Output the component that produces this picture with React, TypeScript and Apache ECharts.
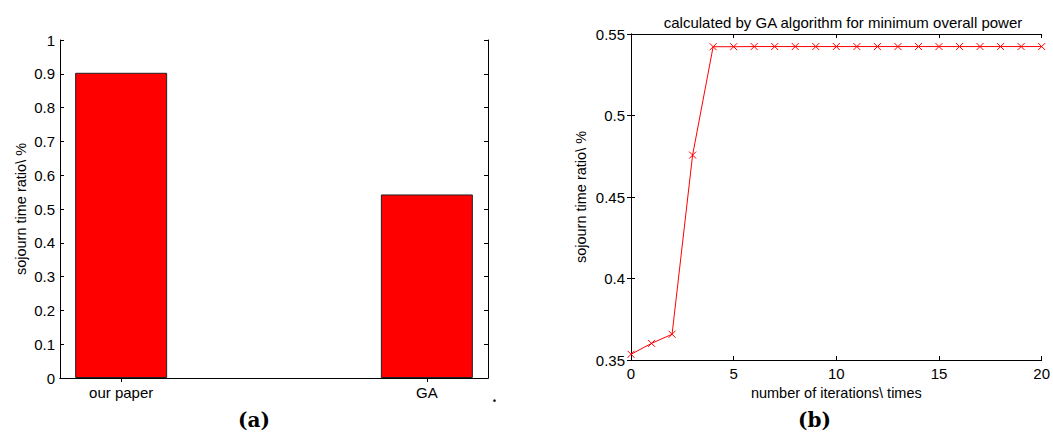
import React, { useEffect, useRef } from "react";
import * as echarts from "echarts";

const methods = ["our paper", "GA"];
const methodPositions = [1, 2];
const methodRatios = [0.903, 0.543];

const iterations = [0, 1, 2, 3, 4, 5, 6, 7, 8, 9, 10, 11, 12, 13, 14, 15, 16, 17, 18, 19, 20];
const gaRatios = [
  0.3535, 0.3602, 0.3658, 0.4757, 0.5422, 0.5422, 0.5423, 0.5423, 0.5423, 0.5423, 0.5423,
  0.5423, 0.5423, 0.5423, 0.5423, 0.5423, 0.5423, 0.5423, 0.5423, 0.5423, 0.5423,
];

const FONT = "Liberation Sans";
const black = "#000";

const lineStyle = { color: black, width: 1 };

export default function App() {
  const ref = useRef<HTMLDivElement>(null);
  useEffect(() => {
    if (!ref.current) return;
    const chart = echarts.init(ref.current, null, { renderer: "svg" });
    const tickBase = { show: true, inside: true, length: 4, lineStyle };
    const labelBase = { color: black, fontFamily: FONT, fontSize: 15 };
    const nameStyle = { fontFamily: FONT, fontSize: 14.5, color: black };
    chart.setOption({
      animation: false,
      backgroundColor: "#fff",
      title: {
        text: "calculated by GA algorithm for minimum overall power",
        left: 838,
        top: 10,
        textAlign: "center",
        textStyle: { fontFamily: FONT, fontSize: 15, fontWeight: "normal", color: black },
      },
      grid: [
        { left: 60, top: 40, width: 428, height: 338 },
        { left: 631, top: 34, width: 413, height: 326 },
      ],
      xAxis: [
        {
          gridIndex: 0, type: "value", min: 0.8, max: 2.2, position: "bottom",
          axisLine: { lineStyle },
          axisTick: { ...tickBase, customValues: methodPositions },
          axisLabel: {
            ...labelBase, margin: 7, customValues: methodPositions,
            formatter: (v: number) => methods[methodPositions.indexOf(v)] ?? "",
          },
          splitLine: { show: false },
        },
        {
          gridIndex: 0, type: "value", min: 0.8, max: 2.2, position: "top",
          axisLine: { lineStyle },
          axisTick: { ...tickBase, customValues: methodPositions },
          axisLabel: { show: false },
          splitLine: { show: false },
        },
        {
          gridIndex: 1, type: "value", min: 0, max: 20, interval: 5, position: "bottom",
          axisLine: { lineStyle },
          axisTick: tickBase,
          axisLabel: { ...labelBase, margin: 6 },
          splitLine: { show: false },
          name: "number of iterations\\ times",
          nameLocation: "middle",
          nameGap: 24,
          nameTextStyle: nameStyle,
        },
        {
          gridIndex: 1, type: "value", min: 0, max: 20, interval: 5, position: "top",
          axisLine: { lineStyle },
          axisTick: tickBase,
          axisLabel: { show: false },
          splitLine: { show: false },
        },
      ],
      yAxis: [
        {
          gridIndex: 0, type: "value", min: 0, max: 1, interval: 0.1, position: "left",
          axisLine: { show: true, lineStyle },
          axisTick: tickBase,
          axisLabel: { ...labelBase, margin: 5 },
          splitLine: { show: false },
          name: "sojourn time ratio\\ %",
          nameLocation: "middle",
          nameGap: 32,
          nameTextStyle: nameStyle,
        },
        {
          gridIndex: 0, type: "value", min: 0, max: 1, interval: 0.1, position: "right",
          axisLine: { show: true, lineStyle },
          axisTick: tickBase,
          axisLabel: { show: false },
          splitLine: { show: false },
        },
        {
          gridIndex: 1, type: "value", min: 0.35, max: 0.55, interval: 0.05, position: "left",
          axisLine: { show: true, lineStyle },
          axisTick: tickBase,
          axisLabel: { ...labelBase, margin: 6 },
          splitLine: { show: false },
          name: "sojourn time ratio\\ %",
          nameLocation: "middle",
          nameGap: 43,
          nameTextStyle: nameStyle,
        },
        {
          gridIndex: 1, type: "value", min: 0.35, max: 0.55, interval: 0.05, position: "right",
          axisLine: { show: true, lineStyle },
          axisTick: tickBase,
          axisLabel: { show: false },
          splitLine: { show: false },
        },
      ],
      series: [
        {
          type: "bar",
          xAxisIndex: 0,
          yAxisIndex: 0,
          barWidth: 92,
          data: methodPositions.map((p, i) => [p, methodRatios[i]]),
          itemStyle: { color: "#ff0000", borderColor: "#222", borderWidth: 1 },
        },
        {
          type: "line",
          xAxisIndex: 2,
          yAxisIndex: 2,
          data: iterations.map((x, i) => [x, gaRatios[i]]),
          symbol: "path://M0,0L10,10M10,0L0,10",
          symbolSize: 7,
          showSymbol: true,
          lineStyle: { color: "#ff0000", width: 1 },
          itemStyle: { color: "#ff0000", borderColor: "#ff0000", borderWidth: 1 },
        },
      ],
      graphic: [
        {
          type: "text", left: 238, top: 410,
          style: { text: "(a)", fontFamily: "DejaVu Serif", fontWeight: "bold", fontSize: 20, fill: black },
        },
        {
          type: "text", left: 798, top: 410,
          style: { text: "(b)", fontFamily: "DejaVu Serif", fontWeight: "bold", fontSize: 20, fill: black },
        },
        {
          type: "text", left: 492, top: 390,
          style: { text: ".", fontFamily: "DejaVu Serif", fontWeight: "bold", fontSize: 14, fill: black },
        },
      ],
    });
    return () => chart.dispose();
  }, []);
  return (
    <div
      ref={ref}
      style={{ position: "absolute", left: 0, top: 0, width: 1053, height: 442, background: "#fff" }}
    />
  );
}
